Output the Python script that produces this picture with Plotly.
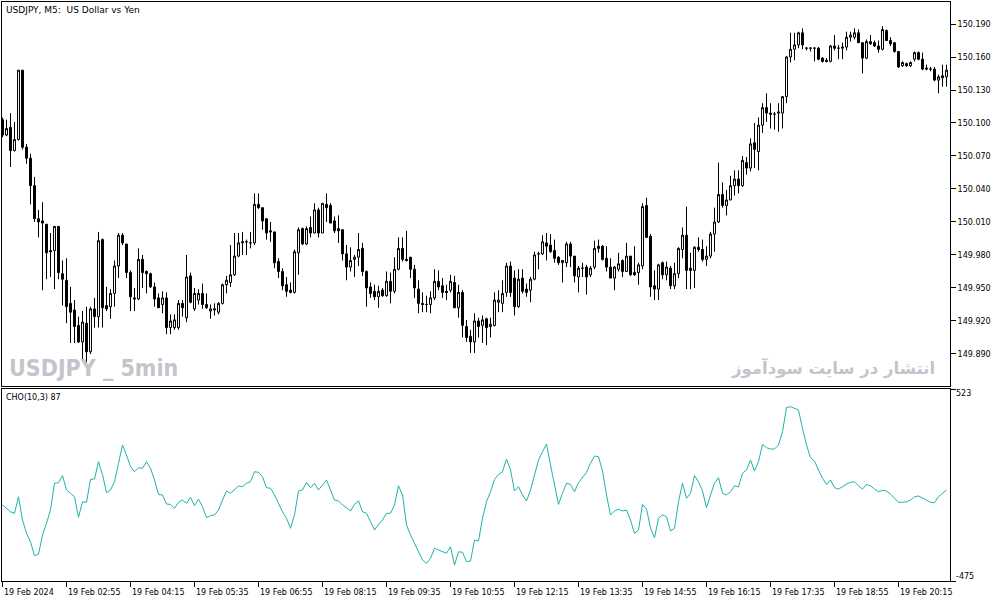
import plotly.graph_objects as go

# Velas M5 USDJPY (19 Feb 2024, desde 01:35)
open_ = [150.103, 150.089, 150.096, 150.075, 150.085, 150.148, 150.078, 150.068, 150.043, 150.013,
         150.011, 150.008, 149.984, 149.984, 150.006, 149.963, 149.957, 149.936, 149.930, 149.916,
         149.901, 149.918, 149.892, 149.931, 149.924, 149.994, 149.934, 149.933, 149.945, 149.970,
         149.998, 149.990, 149.964, 149.941, 149.940, 149.976, 149.965, 149.963, 149.951, 149.941,
         149.935, 149.941, 149.914, 149.914, 149.914, 149.936, 149.923, 149.961, 149.931, 149.939,
         149.945, 149.935, 149.929, 149.930, 149.928, 149.936, 149.953, 149.955, 149.962, 149.979,
         149.991, 149.992, 149.991, 149.991, 150.026, 150.023, 150.013, 150.002, 150.001, 149.974,
         149.965, 149.953, 149.948, 149.946, 149.982, 150.004, 149.990, 150.005, 150.000, 150.021,
         150.000, 150.026, 150.025, 150.011, 150.004, 150.003, 149.981, 149.969, 149.976, 149.978,
         149.986, 149.965, 149.951, 149.947, 149.942, 149.948, 149.943, 149.956, 149.947, 149.967,
         149.986, 149.976, 149.978, 149.967, 149.949, 149.936, 149.935, 149.935, 149.941, 149.956,
         149.952, 149.947, 149.948, 149.955, 149.932, 149.946, 149.915, 149.906, 149.901, 149.920,
         149.916, 149.922, 149.915, 149.916, 149.937, 149.936, 149.946, 149.970, 149.959, 149.933,
         149.959, 149.949, 149.948, 149.958, 149.981, 149.981, 149.991, 149.989, 149.984, 149.978,
         149.973, 149.973, 149.990, 149.979, 149.960, 149.968, 149.969, 149.962, 149.969, 149.988,
         149.988, 149.977, 149.969, 149.959, 149.967, 149.975, 149.965, 149.979, 149.964, 149.964,
         149.970, 150.025, 149.997, 149.952, 149.949, 149.973, 149.962, 149.968, 149.952, 149.963,
         149.985, 149.998, 149.968, 149.966, 149.987, 149.985, 149.976, 149.979, 149.999, 150.010,
         150.035, 150.025, 150.030, 150.043, 150.049, 150.043, 150.064, 150.059, 150.082, 150.074,
         150.098, 150.114, 150.109, 150.108, 150.109, 150.109, 150.124, 150.160, 150.167, 150.171,
         150.182, 150.168, 150.168, 150.168, 150.168, 150.159, 150.157, 150.156, 150.170, 150.168,
         150.168, 150.169, 150.178, 150.178, 150.182, 150.173, 150.159, 150.174, 150.173, 150.170,
         150.167, 150.184, 150.175, 150.173, 150.165, 150.152, 150.154, 150.152, 150.158, 150.164,
         150.158, 150.150, 150.149, 150.149, 150.139, 150.141, 150.142]

high = [150.105, 150.103, 150.109, 150.101, 150.148, 150.148, 150.081, 150.072, 150.051, 150.021,
        150.028, 150.008, 150.000, 150.006, 150.006, 149.975, 149.977, 149.951, 149.939, 149.924,
        149.929, 149.933, 149.933, 149.941, 150.001, 149.995, 149.951, 149.949, 149.975, 150.000,
        150.000, 149.990, 149.966, 149.950, 149.986, 149.980, 149.966, 149.964, 149.955, 149.945,
        149.947, 149.946, 149.926, 149.926, 149.939, 149.939, 149.980, 149.964, 149.950, 149.949,
        149.954, 149.945, 149.935, 149.936, 149.937, 149.954, 149.961, 149.989, 150.000, 150.000,
        150.001, 149.994, 150.001, 150.036, 150.036, 150.023, 150.013, 150.010, 150.001, 149.977,
        149.968, 149.960, 149.955, 149.985, 150.005, 150.005, 150.006, 150.015, 150.027, 150.023,
        150.027, 150.036, 150.027, 150.015, 150.016, 150.003, 149.989, 149.987, 149.980, 150.000,
        149.991, 149.966, 149.955, 149.953, 149.952, 149.950, 149.965, 149.964, 149.978, 149.996,
        149.996, 150.002, 149.978, 149.971, 149.957, 149.946, 149.943, 149.947, 149.967, 149.966,
        149.959, 149.953, 149.962, 149.961, 149.953, 149.948, 149.921, 149.912, 149.927, 149.923,
        149.925, 149.923, 149.923, 149.946, 149.948, 149.957, 149.973, 149.974, 149.966, 149.967,
        149.967, 149.954, 149.960, 149.983, 149.983, 149.998, 150.000, 149.999, 149.994, 149.979,
        149.975, 149.992, 149.992, 149.979, 149.970, 149.973, 149.971, 149.970, 149.993, 149.994,
        149.989, 149.988, 149.977, 149.970, 149.982, 149.976, 149.991, 149.979, 149.988, 149.973,
        150.027, 150.032, 149.999, 149.966, 149.972, 149.974, 149.974, 149.970, 149.973, 149.987,
        150.005, 150.024, 149.982, 149.988, 149.996, 149.994, 149.988, 150.001, 150.023, 150.064,
        150.046, 150.039, 150.052, 150.057, 150.057, 150.070, 150.069, 150.086, 150.100, 150.105,
        150.118, 150.127, 150.118, 150.110, 150.118, 150.124, 150.161, 150.182, 150.182, 150.183,
        150.186, 150.169, 150.169, 150.169, 150.169, 150.160, 150.159, 150.171, 150.180, 150.171,
        150.173, 150.183, 150.183, 150.186, 150.185, 150.173, 150.176, 150.180, 150.175, 150.175,
        150.188, 150.185, 150.178, 150.173, 150.165, 150.156, 150.155, 150.156, 150.165, 150.165,
        150.164, 150.153, 150.151, 150.151, 150.144, 150.153, 150.153]

low = [150.087, 150.088, 150.060, 150.074, 150.084, 150.076, 150.063, 150.026, 150.010, 149.996,
       149.948, 149.958, 149.960, 149.949, 149.958, 149.934, 149.918, 149.900, 149.900, 149.900,
       149.883, 149.879, 149.890, 149.914, 149.914, 149.914, 149.929, 149.922, 149.933, 149.959,
       149.989, 149.959, 149.929, 149.929, 149.939, 149.950, 149.945, 149.950, 149.933, 149.932,
       149.927, 149.908, 149.908, 149.912, 149.912, 149.924, 149.919, 149.936, 149.929, 149.935,
       149.931, 149.931, 149.922, 149.925, 149.926, 149.935, 149.945, 149.951, 149.961, 149.978,
       149.980, 149.980, 149.986, 149.989, 150.022, 150.003, 149.994, 149.992, 149.968, 149.959,
       149.948, 149.942, 149.945, 149.945, 149.962, 149.989, 149.989, 149.996, 150.000, 149.996,
       150.000, 150.010, 150.009, 150.000, 149.991, 149.975, 149.957, 149.965, 149.960, 149.970,
       149.961, 149.933, 149.941, 149.939, 149.932, 149.942, 149.942, 149.936, 149.945, 149.966,
       149.974, 149.974, 149.959, 149.941, 149.927, 149.928, 149.928, 149.927, 149.939, 149.948,
       149.941, 149.939, 149.946, 149.932, 149.923, 149.905, 149.901, 149.891, 149.891, 149.905,
       149.900, 149.898, 149.905, 149.915, 149.928, 149.928, 149.942, 149.942, 149.925, 149.932,
       149.945, 149.942, 149.937, 149.957, 149.967, 149.980, 149.975, 149.982, 149.973, 149.971,
       149.955, 149.969, 149.969, 149.955, 149.946, 149.960, 149.944, 149.960, 149.967, 149.982,
       149.975, 149.965, 149.959, 149.948, 149.965, 149.960, 149.965, 149.961, 149.961, 149.953,
       149.967, 149.996, 149.942, 149.939, 149.939, 149.958, 149.957, 149.949, 149.949, 149.959,
       149.977, 149.949, 149.949, 149.950, 149.983, 149.974, 149.970, 149.977, 149.983, 150.009,
       150.023, 150.016, 150.030, 150.034, 150.036, 150.042, 150.053, 150.056, 150.059, 150.057,
       150.091, 150.101, 150.095, 150.094, 150.092, 150.095, 150.118, 150.155, 150.157, 150.168,
       150.167, 150.166, 150.165, 150.156, 150.157, 150.155, 150.155, 150.155, 150.166, 150.158,
       150.158, 150.166, 150.174, 150.176, 150.173, 150.145, 150.158, 150.171, 150.169, 150.164,
       150.166, 150.175, 150.170, 150.164, 150.150, 150.151, 150.151, 150.151, 150.156, 150.157,
       150.148, 150.148, 150.147, 150.138, 150.127, 150.133, 150.133]

close = [150.089, 150.095, 150.075, 150.085, 150.148, 150.078, 150.068, 150.043, 150.013, 150.010,
         150.009, 149.982, 149.983, 150.006, 149.964, 149.958, 149.933, 149.928, 149.915, 149.901,
         149.919, 149.892, 149.931, 149.924, 149.993, 149.932, 149.931, 149.945, 149.970, 149.998,
         149.991, 149.964, 149.942, 149.940, 149.976, 149.964, 149.963, 149.951, 149.940, 149.932,
         149.941, 149.914, 149.920, 149.921, 149.936, 149.932, 149.960, 149.937, 149.945, 149.945,
         149.935, 149.932, 149.931, 149.931, 149.936, 149.953, 149.957, 149.962, 149.979, 149.991,
         149.992, 149.992, 149.991, 150.026, 150.023, 150.011, 150.000, 150.001, 149.973, 149.965,
         149.952, 149.947, 149.946, 149.983, 150.003, 149.990, 150.004, 150.000, 150.021, 150.000,
         150.027, 150.023, 150.009, 150.002, 150.002, 149.981, 149.969, 149.975, 149.978, 149.985,
         149.965, 149.950, 149.945, 149.942, 149.947, 149.943, 149.956, 149.947, 149.967, 149.986,
         149.976, 149.975, 149.967, 149.950, 149.936, 149.935, 149.935, 149.941, 149.956, 149.951,
         149.946, 149.946, 149.956, 149.932, 149.946, 149.916, 149.905, 149.901, 149.920, 149.915,
         149.921, 149.914, 149.917, 149.939, 149.939, 149.945, 149.970, 149.946, 149.933, 149.958,
         149.947, 149.946, 149.958, 149.980, 149.981, 149.992, 149.988, 149.983, 149.977, 149.973,
         149.975, 149.990, 149.979, 149.961, 149.968, 149.968, 149.960, 149.968, 149.986, 149.986,
         149.976, 149.969, 149.959, 149.969, 149.972, 149.965, 149.979, 149.962, 149.962, 149.971,
         150.024, 149.996, 149.951, 149.949, 149.971, 149.962, 149.969, 149.952, 149.963, 149.986,
         149.998, 149.966, 149.966, 149.987, 149.985, 149.976, 149.979, 149.999, 150.010, 150.035,
         150.025, 150.030, 150.043, 150.049, 150.043, 150.066, 150.059, 150.081, 150.076, 150.098,
         150.114, 150.109, 150.108, 150.108, 150.110, 150.124, 150.160, 150.167, 150.171, 150.182,
         150.171, 150.168, 150.168, 150.168, 150.158, 150.156, 150.156, 150.170, 150.168, 150.168,
         150.169, 150.178, 150.180, 150.182, 150.173, 150.159, 150.174, 150.172, 150.170, 150.167,
         150.185, 150.175, 150.172, 150.165, 150.151, 150.155, 150.152, 150.155, 150.164, 150.158,
         150.149, 150.149, 150.149, 150.139, 150.142, 150.143, 150.148]

# Chaikin Oscillator CHO(10,3)
cho = [-80, -97, -115, -123, -37, -158, -227, -271, -343, -336,
       -236, -175, -106, 33, 36, 73, -2, -19, -37, -144,
       -63, -66, 53, 55, 145, 79, -16, -2, 41, 137,
       232, 180, 119, 93, 114, 111, 145, 111, 50, -25,
       -28, -75, -77, -97, -66, -54, -71, -40, -83, -50,
       -88, -146, -135, -132, -106, -54, -7, -19, -2, 19,
       15, 33, 41, 93, 90, 67, 10, 7, -28, -71,
       -115, -149, -201, -132, -7, -2, 38, 10, 33, -2,
       24, 50, -2, -54, -59, -80, -94, -111, -77, -59,
       -115, -123, -167, -210, -180, -158, -123, -123, -80, 20,
       -28, -184, -236, -279, -323, -366, -383, -357, -305, -314,
       -323, -331, -297, -392, -323, -326, -375, -371, -262, -267,
       -149, -63, -11, 53, 79, 93, 159, 102, -7, 15,
       -28, -59, -2, 76, 154, 197, 237, 128, 24, -77,
       -19, 33, 27, -11, 36, 62, 90, 137, 175, 171,
       97, -28, -132, -111, -102, -111, -106, -158, -227, -210,
       -77, -101, -198, -250, -149, -132, -141, -215, -201, -63,
       33, -45, -19, 73, 41, -7, -94, -28, 33, 62,
       -19, -28, -11, 20, 14, 85, 102, 154, 97, 145,
       235, 218, 211, 211, 232, 301, 426, 431, 423, 414,
       319, 232, 166, 149, 102, 59, 27, 50, 10, 3,
       15, 29, 38, 41, 20, 3, 27, 20, 3, -11,
       -4, -7, -24, -45, -66, -66, -63, -54, -37, -33,
       -45, -54, -66, -68, -37, -19, -2]

# Etiquetas del eje de tiempo (cada 16 velas)
time_labels = ["19 Feb 2024", "19 Feb 02:55", "19 Feb 04:15", "19 Feb 05:35", "19 Feb 06:55",
               "19 Feb 08:15", "19 Feb 09:35", "19 Feb 10:55", "19 Feb 12:15", "19 Feb 13:35",
               "19 Feb 14:55", "19 Feb 16:15", "19 Feb 17:35", "19 Feb 18:55", "19 Feb 20:15"]
price_ticks = [149.890, 149.920, 149.950, 149.980, 150.010, 150.040, 150.070,
               150.100, 150.130, 150.160, 150.190]
cho_max, cho_min = 523, -475

x = list(range(len(close)))
fuente = dict(family="DejaVu Sans", size=8, color="black")

fig = go.Figure()

fig.add_trace(go.Candlestick(
    x=x, open=open_, high=high, low=low, close=close,
    increasing=dict(fillcolor="white", line=dict(color="black", width=1)),
    decreasing=dict(fillcolor="black", line=dict(color="black", width=1)),
    whiskerwidth=0, showlegend=False, hoverinfo="skip",
    xaxis="x", yaxis="y"
))

fig.add_trace(go.Scatter(
    x=x, y=cho, mode="lines", line=dict(color="#20B2AA", width=1),
    showlegend=False, hoverinfo="skip", xaxis="x2", yaxis="y2"
))

eje_x = dict(range=[-0.125, 236.875], showgrid=False, zeroline=False,
             showline=True, linecolor="black", linewidth=1, mirror=True,
             showticklabels=False, fixedrange=True)

fig.update_layout(
    width=1003, height=603,
    margin=dict(l=2, r=53, t=2, b=22),
    paper_bgcolor="white", plot_bgcolor="white",
    font=fuente,
    xaxis=dict(eje_x, anchor="y", ticks="", rangeslider=dict(visible=False)),
    xaxis2=dict(eje_x, anchor="y2", matches="x", ticks="outside", ticklen=5,
                tickcolor="black", tickvals=[16 * i for i in range(len(time_labels))]),
    yaxis=dict(domain=[0.3368, 1], range=[149.8609, 150.2100], side="right",
               showgrid=False, zeroline=False, showline=True, linecolor="black",
               mirror=True, ticks="outside", ticklen=5, tickcolor="black",
               tickvals=price_ticks, tickformat=".3f", tickfont=fuente),
    yaxis2=dict(domain=[0, 0.3316], range=[cho_min, cho_max], side="right",
                showgrid=False, zeroline=False, showline=True, linecolor="black",
                mirror=True, ticks="outside", ticklen=5, tickcolor="black",
                tickvals=[cho_max, cho_min], showticklabels=False),
)

# Textos
fig.add_annotation(text="USDJPY, M5:\u00a0 US Dollar vs Yen", xref="paper", yref="paper",
                   x=0, y=1, xanchor="left", yanchor="top", xshift=2, yshift=-1,
                   showarrow=False, font=dict(fuente, size=9))
fig.add_annotation(text="CHO(10,3) 87", xref="paper", yref="paper",
                   x=0, y=0.3316, xanchor="left", yanchor="top", xshift=2, yshift=-2,
                   showarrow=False, font=fuente)
fig.add_annotation(text="<b>USDJPY _ 5min</b>", xref="paper", yref="paper",
                   x=0, y=0.3368, xanchor="left", yanchor="bottom", xshift=5, yshift=3,
                   showarrow=False,
                   font=dict(family="DejaVu Sans Condensed, Roboto, sans-serif",
                             size=23, color="#c4c4cc"))
fig.add_annotation(text="<b>انتشار در سایت سودآموز</b>", xref="paper", yref="paper",
                   x=1, y=0.3368, xanchor="right", yanchor="bottom", xshift=-13, yshift=5,
                   showarrow=False,
                   font=dict(family="DejaVu Sans", size=16.5, color="#c4c4cc"))

# Escala del CHO
fig.add_annotation(text=str(cho_max), xref="paper", yref="y2", x=1, y=cho_max,
                   xanchor="left", yanchor="middle", xshift=4, yshift=-4,
                   showarrow=False, font=fuente)
fig.add_annotation(text=str(cho_min), xref="paper", yref="y2", x=1, y=cho_min,
                   xanchor="left", yanchor="middle", xshift=4, yshift=5,
                   showarrow=False, font=fuente)

# Etiquetas de tiempo alineadas a la izquierda
for i, lab in enumerate(time_labels):
    fig.add_annotation(text=lab, xref="x2", yref="paper", x=16 * i, y=-0.019,
                       xanchor="left", yanchor="middle", xshift=-1,
                       showarrow=False, font=fuente)

# Quitar el margen del body para que el grafico ocupe toda la ventana
fig.write_html("out.html", config={"displayModeBar": False},
               post_script="document.body.style.margin='0';")
